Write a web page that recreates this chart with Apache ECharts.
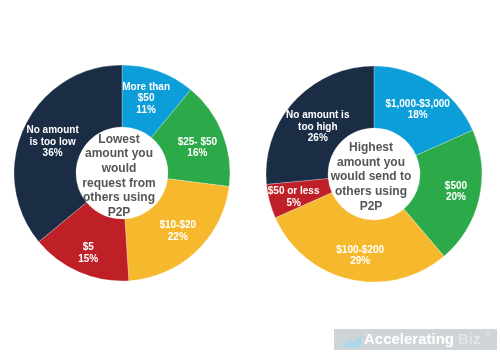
<!DOCTYPE html>
<html><head><meta charset="utf-8">
<script src="https://cdn.jsdelivr.net/npm/echarts@6/dist/echarts.min.js"></script>
<style>html,body{margin:0;padding:0;background:#fff}#c{width:500px;height:357px}</style>
</head><body><div id="c"></div>
<script>
const leftNames = ['More than\n$50', '$25- $50', '$10-$20', '$5', 'No amount\nis too low'];
const leftValues = [11, 16, 22, 15, 36];
const leftTitle = 'Lowest\namount you\nwould\nrequest from\nothers using\nP2P';
const rightNames = ['$1,000-$3,000', '$500', '$100-$200', '$50 or less', 'No amount is\ntoo high'];
const rightValues = [18, 20, 29, 5, 26];
const rightTitle = 'Highest\namount you\nwould send to\nothers using\nP2P';
const colors = ['#0b9ed8', '#2caa4a', '#f6b92e', '#bf1f27', '#1b2d45'];
// label nudges (style only)
const leftNudge = [[-3, 1], [1, 4], [1, 0], [-2, 7], [3, 3]];
const rightNudge = [[0, 3], [4, 0], [4, 4], [-3, 3], [3, 7]];

function toData(names, values, nudge) {
  return names.map((n, i) => ({ name: n, value: values[i], itemStyle: { color: colors[i] },
    label: { offset: nudge[i] } }));
}
const labelStyle = {
  show: true, position: 'inside', color: '#fff', fontFamily: 'Liberation Sans, Arial, sans-serif',
  fontWeight: 'bold', fontSize: 10, lineHeight: 11.5, overflow: 'none', width: 120,
  formatter: p => p.name + '\n' + p.value + '%'
};
const chart = echarts.init(document.getElementById('c'), null, { renderer: 'canvas' });
chart.setOption({
  animation: false,
  series: [
    { type: 'pie', center: [122, 173], radius: [46, 108], startAngle: 90, clockwise: true,
      data: toData(leftNames, leftValues, leftNudge), label: labelStyle, labelLine: { show: false },
      labelLayout: { hideOverlap: false },
      itemStyle: { borderColor: 'rgba(255,255,255,0.5)', borderWidth: 0.5 } },
    { type: 'pie', center: [374, 174], radius: [46, 108], startAngle: 90, clockwise: true,
      data: toData(rightNames, rightValues, rightNudge), label: labelStyle, labelLine: { show: false },
      labelLayout: { hideOverlap: false },
      itemStyle: { borderColor: 'rgba(255,255,255,0.5)', borderWidth: 0.5 } }
  ],
  graphic: [
    { type: 'text', z: 100, style: { text: leftTitle, x: 119, y: 176, align: 'center', verticalAlign: 'middle',
      fill: '#555', font: 'bold 12px "Liberation Sans", Arial, sans-serif', lineHeight: 14.6 } },
    { type: 'text', z: 100, style: { text: rightTitle, x: 371, y: 177, align: 'center', verticalAlign: 'middle',
      fill: '#555', font: 'bold 12px "Liberation Sans", Arial, sans-serif', lineHeight: 14.6 } },
    { type: 'rect', shape: { x: 334, y: 329, width: 163, height: 21 }, style: { fill: '#cfd4d8' } },
    { type: 'polygon', shape: { points: [[341, 347], [349, 340], [354, 343], [361, 334], [361, 347]] }, style: { fill: '#a8d8ec' } },
    { type: 'text', style: { text: 'Accelerating', x: 364, y: 340, verticalAlign: 'middle',
      fill: '#ffffff', font: 'bold 15px "Liberation Sans", Arial, sans-serif' } },
    { type: 'text', style: { text: 'Biz', x: 458, y: 340, verticalAlign: 'middle',
      fill: '#e2e5e8', font: 'bold 15px "Liberation Sans", Arial, sans-serif' } },
    { type: 'text', style: { text: '®', x: 485, y: 335, verticalAlign: 'middle',
      fill: '#e2e5e8', font: 'bold 8px "Liberation Sans", Arial, sans-serif' } }
  ]
});
</script></body></html>
